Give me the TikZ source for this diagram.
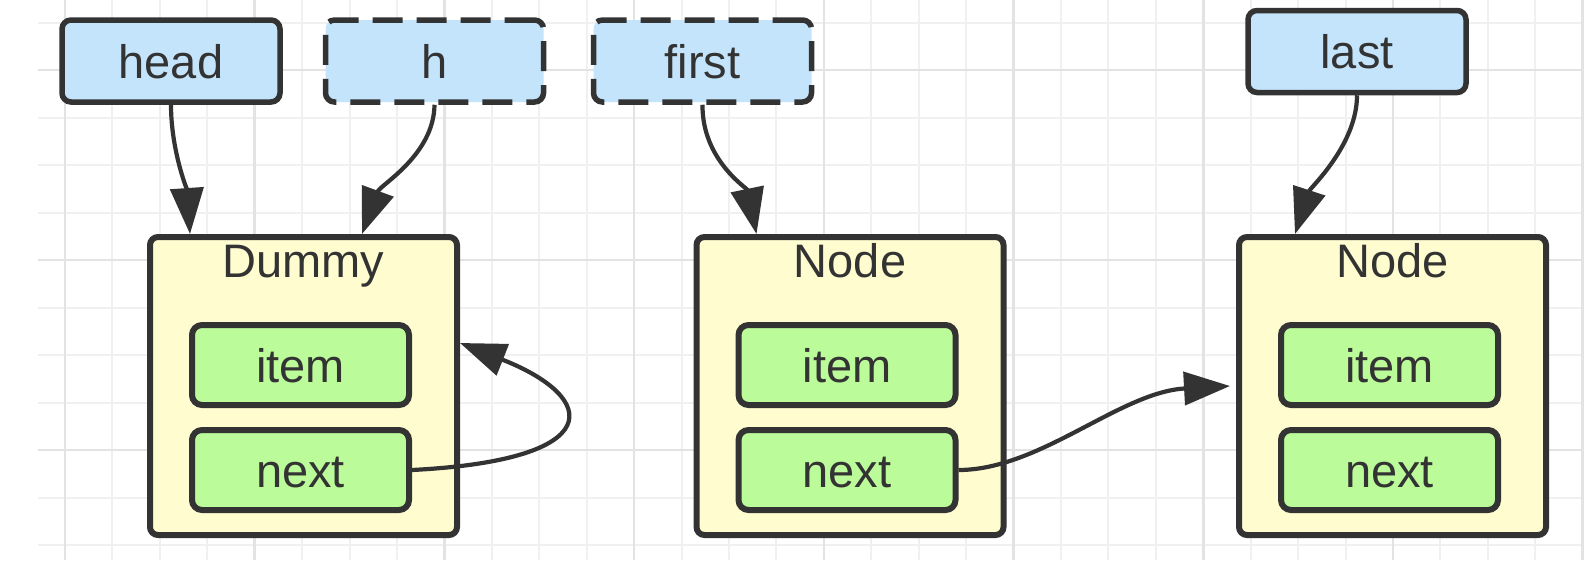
\documentclass[tikz,border=0pt]{standalone}
\usepackage{fontspec}
\setmainfont{Liberation Sans}
\usetikzlibrary{arrows.meta,calc}
\definecolor{lineC}{HTML}{333333}
\definecolor{blueF}{HTML}{C4E4FB}
\definecolor{yellowF}{HTML}{FFFDD0}
\definecolor{greenF}{HTML}{BBFB9A}
\definecolor{gridMinor}{HTML}{F0F0F0}
\definecolor{gridMajor}{HTML}{E3E3E3}
\begin{document}
\begin{tikzpicture}[x=1pt,y=-1pt,
 labelfont/.style={text=lineC, font=\fontsize{47pt}{56pt}\selectfont},
 ptr/.style={draw=lineC, fill=blueF, line width=5.5pt, rounded corners=9pt,
   minimum width=218pt, minimum height=82pt, inner sep=0pt,
   text height=34pt, text depth=0pt, labelfont},
 ptrdash/.style={ptr, dash pattern=on 30pt off 14pt},
 container/.style={draw=lineC, fill=yellowF, line width=6pt, rounded corners=8pt,
   minimum width=307pt, minimum height=298pt, inner sep=0pt},
 field/.style={draw=lineC, fill=greenF, line width=6pt, rounded corners=10pt,
   minimum width=217pt, minimum height=80pt, inner sep=0pt,
   text height=34pt, text depth=0pt, labelfont},
 titletext/.style={anchor=base, inner sep=0pt, labelfont},
 conn/.style={draw=lineC, line width=4.2pt, -{Triangle[length=46pt,width=33pt]}},
 gminor/.style={draw=gridMinor, line width=2pt},
 gmajor/.style={draw=gridMajor, line width=2.6pt},
]
% background and grid
\fill[white] (0,0) rectangle (1594,584);
\useasboundingbox (0,0) rectangle (1594,584);
\foreach \k in {0,...,11} {\draw[gminor] (38,{22.5+47.5*\k}) -- (1584,{22.5+47.5*\k});}
\foreach \k in {0,...,32} {\draw[gminor] ({65+47.43*\k},0) -- ({65+47.43*\k},560);}
\foreach \k in {1,5,9} {\draw[gmajor] (38,{22.5+47.5*\k}) -- (1584,{22.5+47.5*\k});}
\foreach \k in {0,4,...,32} {\draw[gmajor] ({65+47.43*\k},0) -- ({65+47.43*\k},560);}

% pointer boxes
\node[ptr] (head) at (171,61) {head};
\node[ptrdash] (h) at (434.5,61) {h};
\node[ptrdash] (first) at (702.5,61) {first};
\node[ptr] (last) at (1357,51.5) {last};

% containers
\node[container] (dummy) at (303.5,386) {};
\node[container] (n1) at (850,386) {};
\node[container] (n2) at (1392.5,386) {};

\node[titletext] (dtitle) at ([yshift=-43pt]dummy.north) {Dummy};
\node[titletext] (n1title) at ([yshift=-43pt]n1.north) {Node};
\node[titletext] (n2title) at ([yshift=-43pt]n2.north) {Node};

\node[field] (ditem) at (300.5,365) {item};
\node[field] (dnext) at (300.5,470) {next};
\node[field] (n1item) at (847,365) {item};
\node[field] (n1next) at (847,470) {next};
\node[field] (n2item) at (1389.5,365) {item};
\node[field] (n2next) at (1389.5,470) {next};

% connectors
\draw[conn] (head.south) .. controls (171,150) and (187,190) .. ([xshift=43pt]dummy.north west);
\draw[conn] (h.south) .. controls (434,155) and (380,185) .. ([xshift=215pt]dummy.north west);
\draw[conn] (first.south) .. controls (702,160) and (747,188) .. ([xshift=63pt]n1.north west);
\draw[conn] (last.south) .. controls (1357,145) and (1310,188) .. ([xshift=59pt]n2.north west);
\draw[conn] (dnext.east) .. controls (608,460) and (600,398) .. ([yshift=43pt]dummy.east);
\draw[conn] (n1next.east) .. controls (1040,470) and (1120,392) .. ([xshift=-6pt]n2.west);
\end{tikzpicture}
\end{document}
